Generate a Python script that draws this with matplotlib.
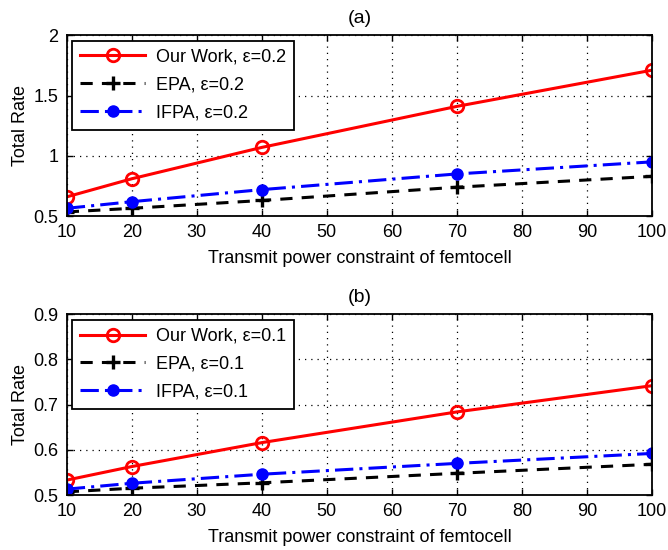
import matplotlib.pyplot as plt
import numpy as np

# transmit power constraint (x axis)
power = [10, 20, 40, 70, 100]

# panel (a), eps = 0.2
ours_a = [0.66, 0.81, 1.07, 1.41, 1.71]
epa_a = [0.535, 0.565, 0.63, 0.74, 0.83]
ifpa_a = [0.565, 0.62, 0.72, 0.85, 0.95]

# panel (b), eps = 0.1
ours_b = [0.533, 0.563, 0.616, 0.684, 0.742]
epa_b = [0.507, 0.515, 0.527, 0.548, 0.568]
ifpa_b = [0.513, 0.526, 0.546, 0.570, 0.592]

xticks = [10, 20, 30, 40, 50, 60, 70, 80, 90, 100]

plt.rcParams['font.family'] = ['Liberation Sans', 'DejaVu Sans']
plt.rcParams['font.size'] = 13


def draw_panel(ax, ours, epa, ifpa, eps, title, ylim, yticks):
    ax.plot(power, ours, '-', color='red', lw=2.2, marker='o', ms=9,
            mfc='none', mew=2, label='Our Work, ε={}'.format(eps))
    ax.plot(power, epa, '--', color='black', lw=2.2, marker='+', ms=10,
            mew=2.4, dashes=(4, 3), label='EPA, ε={}'.format(eps))
    ax.plot(power, ifpa, '-.', color='blue', lw=2.2, marker='o', ms=8,
            mfc='blue', mec='blue', dashes=(6, 2, 1, 2), label='IFPA, ε={}'.format(eps))

    ax.set_xlim(10, 100)
    ax.set_ylim(*ylim)
    ax.set_xticks(xticks)
    ax.set_yticks(yticks)
    ax.set_yticklabels([('%g' % t) for t in yticks])
    ax.tick_params(direction='in', length=4, width=1, top=True, right=True,
                   labelsize=13, pad=6)
    ax.grid(True, color='black', linestyle=(0, (1, 4)), linewidth=0.9)
    for sp in ax.spines.values():
        sp.set_linewidth(1.3)

    ax.set_title(title, fontsize=14, pad=9)
    ax.set_xlabel('Transmit power constraint of femtocell', fontsize=13, labelpad=6)
    ax.set_ylabel('Total Rate', fontsize=13, labelpad=3)

    leg = ax.legend(loc='upper left', fontsize=13, handlelength=3.6, fancybox=False,
                    framealpha=1, edgecolor='black', borderaxespad=0.3,
                    labelspacing=0.6, borderpad=0.45, handletextpad=0.6)
    leg.get_frame().set_linewidth(1.3)


fig = plt.figure(figsize=(6.68, 5.5), dpi=100)
ax1 = fig.add_axes([0.100, 0.607, 0.876, 0.329])
ax2 = fig.add_axes([0.100, 0.100, 0.876, 0.3285])

draw_panel(ax1, ours_a, epa_a, ifpa_a, 0.2, '(a)', (0.5, 2), [0.5, 1, 1.5, 2])
draw_panel(ax2, ours_b, epa_b, ifpa_b, 0.1, '(b)', (0.5, 0.9), [0.5, 0.6, 0.7, 0.8, 0.9])

fig.savefig('out.png', dpi=100)
